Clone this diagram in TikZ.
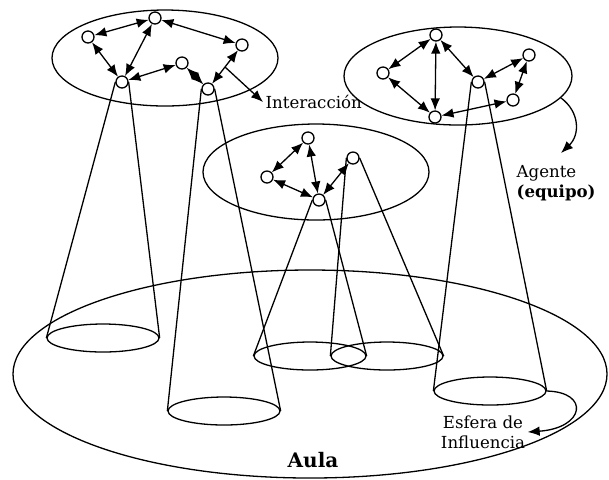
\documentclass[tikz,border=0pt]{standalone}
\usepackage{fontspec}
\setmainfont{DejaVu Serif}
\usetikzlibrary{arrows.meta,shapes.geometric}

\tikzset{
  agent/.style={circle, draw, fill=white, inner sep=0pt, minimum size=6pt},
  team/.style={ellipse, draw, inner sep=0pt},
  sphere/.style={ellipse, draw, inner sep=0pt, minimum width=56pt, minimum height=14pt},
  link/.style={{Latex[length=6pt,width=4.8pt]}-{Latex[length=6pt,width=4.8pt]}},
  pointer/.style={-{Latex[length=6pt,width=4.8pt]}},
  tag/.style={font=\fontsize{8.3}{10}\selectfont, inner sep=1pt}
}

\begin{document}
\begin{tikzpicture}[x=0.5pt, y=-0.5pt, line width=0.65pt]
\useasboundingbox (0,0) rectangle (609,479);

% Aula
\node[team, minimum width=297pt, minimum height=104pt] (aula) at (310,374) {};
\node[tag, font=\bfseries\fontsize{10}{12}\selectfont] (aulatxt) at (313,460) {Aula};

% Esferas de influencia
\node[sphere] (sph1) at (103,338) {};
\node[sphere] (sph2) at (224,411) {};
\node[sphere] (sph3) at (310,356) {};
\node[sphere] (sph4) at (387,356) {};
\node[sphere] (sph5) at (490,391) {};

% Team 1
\node[team, minimum width=113pt, minimum height=48pt] (team1) at (165,58) {};
\node[agent] (a1) at (155,18) {};
\node[agent] (b1) at (88,37) {};
\node[agent] (c1) at (242,45) {};
\node[agent] (d1) at (182,63) {};
\node[agent] (e1) at (122,82) {};
\node[agent] (f1) at (208,89) {};

\draw[link] (a1) -- (b1);
\draw[link] (a1) -- (c1);
\draw[link] (a1) -- (e1);
\draw[link] (b1) -- (e1);
\draw[link] (e1) -- (d1);
\draw[link] (d1) -- (f1);
\draw[link] (f1) -- coordinate[pos=0.5] (fc1) (c1);

% Team 2
\node[team, minimum width=113pt, minimum height=48pt] (team2) at (316,172) {};
\node[agent] (g2) at (308,138) {};
\node[agent] (h2) at (267,177) {};
\node[agent] (i2) at (319,200) {};
\node[agent] (j2) at (353,158) {};

\draw[link] (g2) -- (h2);
\draw[link] (g2) -- (i2);
\draw[link] (h2) -- (i2);
\draw[link] (i2) -- (j2);

% Team 3
\node[team, minimum width=114pt, minimum height=49pt] (team3) at (458,76) {};
\node[agent] (k3) at (436,35) {};
\node[agent] (l3) at (383,73) {};
\node[agent] (m3) at (435,117) {};
\node[agent] (n3) at (478,82) {};
\node[agent] (o3) at (529,55) {};
\node[agent] (p3) at (513,100) {};

\draw[link] (k3) -- (l3);
\draw[link] (k3) -- (m3);
\draw[link] (k3) -- (n3);
\draw[link] (l3) -- (m3);
\draw[link] (n3) -- (o3);
\draw[link] (o3) -- (p3);
\draw[link] (p3) -- (m3);

% Cones
\draw (e1.west) -- (sph1.west);
\draw (e1.east) -- (sph1.east);
\draw (f1.west) -- (sph2.west);
\draw (f1.east) -- (sph2.east);
\draw (i2.west) -- (sph3.west);
\draw (i2.east) -- (sph3.east);
\draw (j2.west) -- (sph4.west);
\draw (j2.east) -- (sph4.east);
\draw (n3.west) -- (sph5.west);
\draw (n3.east) -- (sph5.east);

% Labels
\node[tag, anchor=west] (inter) at (263,102) {Interacción};
\node[tag, anchor=north west, align=left] (agente) at (514,163) {Agente\\\textbf{(equipo)}};
\node[tag, align=center] (esfera) at (483,432) {Esfera de\\Influencia};
\coordinate (agtip) at (561,153);

\draw[pointer] (fc1) -- (inter.west);
\draw[pointer] (team3.-12) .. controls (580,112) and (580,135) .. (agtip);
\draw[pointer] (sph5.east) .. controls (590,392) and (585,428) .. (esfera.east);
\end{tikzpicture}
\end{document}
